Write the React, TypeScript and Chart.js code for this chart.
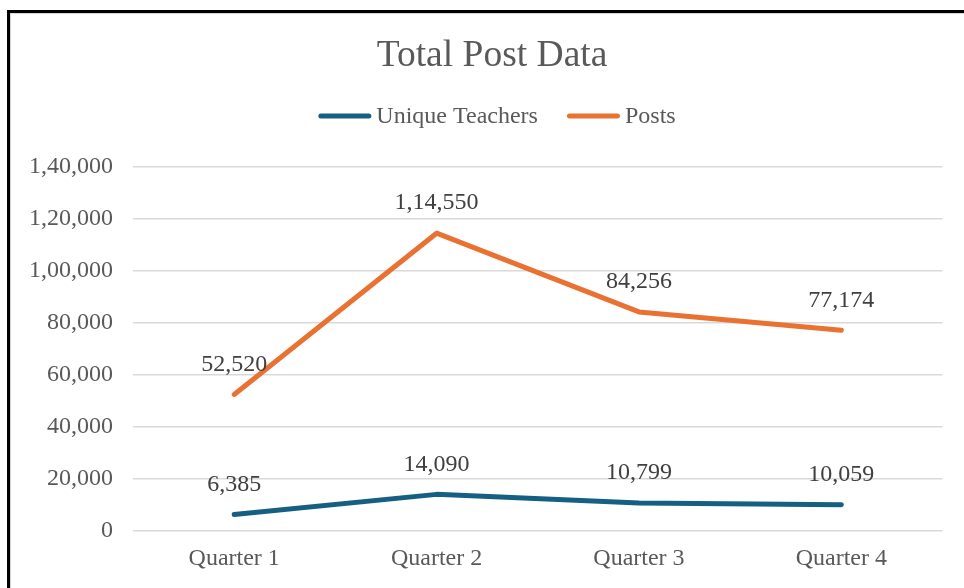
import React, { useEffect, useRef } from "react";
import { Chart, registerables } from "chart.js";

Chart.register(...registerables);

const categories = ["Quarter 1", "Quarter 2", "Quarter 3", "Quarter 4"];
const uniqueTeachers = [6385, 14090, 10799, 10059];
const posts = [52520, 114550, 84256, 77174];
const seriesNames = ["Unique Teachers", "Posts"];
const chartTitle = "Total Post Data";
const yMin = 0;
const yMax = 140000;
const yStep = 20000;

const BLUE = "#156082";
const ORANGE = "#E97132";
const FONT = "'Liberation Serif', 'Times New Roman', serif";

function fmtIN(n: number): string {
  const s = Math.round(n).toString();
  if (s.length <= 3) return s;
  const last3 = s.slice(-3);
  const rest = s.slice(0, -3).replace(/\B(?=(\d{2})+(?!\d))/g, ",");
  return rest + "," + last3;
}

const dataLabelPlugin = {
  id: "dataLabels",
  afterDatasetsDraw(chart: any) {
    const ctx = chart.ctx;
    ctx.save();
    ctx.font = `24px ${FONT}`;
    ctx.fillStyle = "#404040";
    ctx.textAlign = "center";
    ctx.textBaseline = "middle";
    chart.data.datasets.forEach((ds: any, i: number) => {
      const meta = chart.getDatasetMeta(i);
      meta.data.forEach((pt: any, j: number) => {
        ctx.fillText(fmtIN(ds.data[j]), pt.x, pt.y - 30);
      });
    });
    ctx.restore();
  },
};

const titleLegendPlugin = {
  id: "titleLegend",
  afterDraw(chart: any) {
    const ctx = chart.ctx;
    ctx.save();
    // Title
    ctx.font = `37.5px ${FONT}`;
    ctx.fillStyle = "#595959";
    ctx.textAlign = "center";
    ctx.textBaseline = "middle";
    ctx.fillText(chartTitle, chart.width / 2, 42.5);

    // Legend
    ctx.font = `24px ${FONT}`;
    const lineLen = 53;
    const gap = 5;
    const spacing = 29;
    const items = chart.data.datasets.map((ds: any) => ({
      text: ds.label,
      color: ds.borderColor,
      w: ctx.measureText(ds.label).width,
    }));
    let total = 0;
    items.forEach((it: any, i: number) => {
      total += lineLen + gap + it.w + (i > 0 ? spacing : 0);
    });
    let x = (chart.width - total) / 2 + 5;
    const y = 102;
    items.forEach((it: any) => {
      ctx.strokeStyle = it.color;
      ctx.lineWidth = 5;
      ctx.lineCap = "round";
      ctx.beginPath();
      ctx.moveTo(x + 2.5, y);
      ctx.lineTo(x + lineLen - 2.5, y);
      ctx.stroke();
      ctx.fillStyle = "#595959";
      ctx.textAlign = "left";
      ctx.textBaseline = "middle";
      ctx.fillText(it.text, x + lineLen + gap, y + 1);
      x += lineLen + gap + it.w + spacing;
    });
    ctx.restore();
  },
};

export default function App() {
  const canvasRef = useRef<HTMLCanvasElement | null>(null);

  useEffect(() => {
    if (!canvasRef.current) return;
    const chart = new Chart(canvasRef.current, {
      type: "line",
      data: {
        labels: categories,
        datasets: [
          {
            label: seriesNames[0],
            data: uniqueTeachers,
            borderColor: BLUE,
            backgroundColor: BLUE,
            borderWidth: 5,
            borderCapStyle: "round",
            borderJoinStyle: "round",
            pointRadius: 0,
            tension: 0,
          },
          {
            label: seriesNames[1],
            data: posts,
            borderColor: ORANGE,
            backgroundColor: ORANGE,
            borderWidth: 5,
            borderCapStyle: "round",
            borderJoinStyle: "round",
            pointRadius: 0,
            tension: 0,
          },
        ],
      },
      options: {
        responsive: false,
        animation: false,
        layout: { padding: { left: 18, right: 30.5, top: 153, bottom: 14 } },
        plugins: {
          legend: { display: false },
          tooltip: { enabled: false },
          title: { display: false },
        },
        scales: {
          x: {
            offset: true,
            grid: { display: false, drawTicks: false },
            border: { display: false },
            ticks: {
              color: "#595959",
              font: { family: FONT, size: 24 },
              padding: 13,
              maxRotation: 0,
            },
            afterFit: (s: any) => {
              s.height = 43;
            },
          },
          y: {
            min: yMin,
            max: yMax,
            grid: { color: "#d9d9d9", lineWidth: 1.5, drawTicks: false },
            border: { display: false },
            ticks: {
              stepSize: yStep,
              color: "#595959",
              font: { family: FONT, size: 24 },
              padding: 20,
              callback: (v: any) => fmtIN(Number(v)),
            },
            afterFit: (s: any) => {
              s.width = 104;
            },
          },
        },
      },
      plugins: [dataLabelPlugin, titleLegendPlugin],
    });
    return () => chart.destroy();
  }, []);

  return (
    <div
      style={{
        position: "fixed",
        left: 0,
        top: 0,
        width: 964,
        height: 588,
        overflow: "hidden",
        background: "#fff",
      }}
    >
      <div
        style={{
          position: "absolute",
          left: 7,
          top: 10,
          borderLeft: "3px solid #000",
          borderTop: "3px solid #000",
        }}
      >
        <div
          style={{
            borderLeft: "1px solid #d4d4d4",
            borderTop: "1px solid #d4d4d4",
          }}
        >
          <canvas
            ref={canvasRef}
            width={962}
            height={574}
            style={{ display: "block", width: 962, height: 574 }}
          />
        </div>
      </div>
    </div>
  );
}
